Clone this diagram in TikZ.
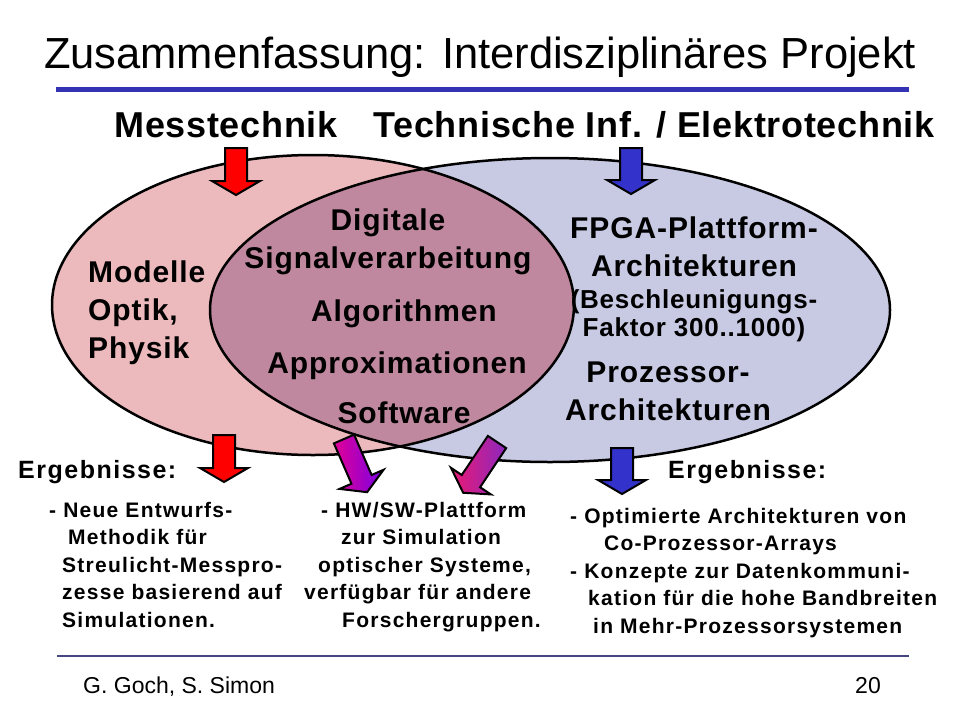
\documentclass[tikz,border=0pt]{standalone}
\usepackage{fontspec}
\setmainfont{Liberation Sans}
\newfontfamily\headfont[LetterSpace=2]{Liberation Sans}
\newfontfamily\fieldfont[LetterSpace=3]{Liberation Sans}
\newfontfamily\resfont[LetterSpace=6]{Liberation Sans}

\definecolor{leftpink}{RGB}{236,186,188}
\definecolor{rightblue}{RGB}{200,202,228}
\definecolor{lensmauve}{RGB}{192,136,158}
\definecolor{rulebar}{RGB}{51,51,180}
\definecolor{footrule}{RGB}{70,70,130}
\definecolor{arrowblue}{RGB}{51,51,204}
\definecolor{gradAleft}{RGB}{225,0,150}
\definecolor{gradAright}{RGB}{120,0,230}
\definecolor{gradBleft}{RGB}{235,25,115}
\definecolor{gradBright}{RGB}{140,40,190}

\tikzset{
  titletext/.style={font=\fontsize{43.5}{50}\selectfont, anchor=base, inner sep=0},
  headtext/.style={font=\headfont\fontsize{36}{40}\selectfont\bfseries, anchor=base, inner sep=0},
  fieldtext/.style={font=\fieldfont\fontsize{30}{38}\selectfont\bfseries, align=center, anchor=base, inner sep=0},
  restitle/.style={font=\resfont\fontsize{25}{30}\selectfont\bfseries, anchor=base west, inner sep=0},
  restext/.style={font=\resfont\fontsize{21}{27.5}\selectfont\bfseries, align=left, anchor=base west, inner sep=0},
  foottext/.style={font=\fontsize{23}{28}\selectfont, inner sep=0},
  pics/blockarrow/.style={code={
    \path[pic actions, line width=2, line join=miter]
      (-11,0) -- (11,0) -- (11,#1-14) -- (24,#1-14) -- (0,#1) -- (-24,#1-14) -- (-11,#1-14) -- cycle;
  }}
}

\begin{document}
\begin{tikzpicture}[x=1pt, y=-1pt]
  \useasboundingbox[fill=white] (0,0) rectangle (960,720);

  % title with its rule
  \node[titletext] (title) at (480,68) {Zusammenfassung: Interdisziplinäres Projekt};
  \draw[rulebar, line width=5] (56,89.5) -- (909,89.5);

  % the two fields
  \node[headtext] (mess) at (226,137) {Messtechnik};
  \node[headtext] (tinf) at (654,137) {Technische Inf. / Elektrotechnik};

  % two overlapping ellipses
  % left one: centre (313,305), radii 261 x 150
  % right one: centre (550,310), radii 340 x 152
  \def\lcx{313} \def\lcy{305} \def\lrx{261} \def\lry{150}
  \def\rcx{550} \def\rcy{310} \def\rrx{340} \def\rry{152}
  \fill[leftpink] (\lcx,\lcy) ellipse [x radius=\lrx, y radius=\lry];
  \fill[rightblue] (\rcx,\rcy) ellipse [x radius=\rrx, y radius=\rry];
  \begin{scope}
    \clip (\lcx,\lcy) ellipse [x radius=\lrx, y radius=\lry];
    \fill[lensmauve] (\rcx,\rcy) ellipse [x radius=\rrx, y radius=\rry];
  \end{scope}
  \draw[line width=2.5] (\lcx,\lcy) ellipse [x radius=\lrx, y radius=\lry];
  \draw[line width=2.5] (\rcx,\rcy) ellipse [x radius=\rrx, y radius=\rry];

  % what is inside (multi-line nodes sit on their last line)
  \node[fieldtext, align=left, anchor=base west] (model) at (88,358) {Modelle\\Optik,\\Physik};
  \node[fieldtext] (dsv) at (388,268) {Digitale\\Signalverarbeitung};
  \node[fieldtext] (algo) at (404,321) {Algorithmen};
  \node[fieldtext] (approx) at (397,373) {Approximationen};
  \node[fieldtext] (soft) at (404,423) {Software};
  \node[fieldtext] (fpga) at (694,276) {FPGA-Plattform-\\Architekturen};
  \node[fieldtext, font=\fieldfont\fontsize{26}{28}\selectfont\bfseries] (speed) at (694,336) {(Beschleunigungs-\\Faktor 300..1000)};
  \node[fieldtext] (proz) at (668,420) {Prozessor-\\Architekturen};

  % block arrows in and out
  \pic[draw, fill=red] at (236,148) {blockarrow=47};
  \pic[draw, fill=arrowblue] at (631,148) {blockarrow=46};
  \pic[draw, fill=red] at (224,435) {blockarrow=47};
  \pic[draw, fill=arrowblue] at (622,448) {blockarrow=46};
  \pic[draw, left color=gradAleft, right color=gradAright, rotate=23.5] at (344,439) {blockarrow=58};
  \pic[draw, left color=gradBleft, right color=gradBright, rotate=-33.7] at (497,442) {blockarrow=61};

  % results
  \node[restitle] (resL) at (18,478) {Ergebnisse:};
  \node[restitle] (resR) at (668,478) {Ergebnisse:};
  \node[restext] (resA) at (49,627) {- Neue Entwurfs-\\\hspace*{19pt}Methodik für\\\hspace*{13pt}Streulicht-Messpro-\\\hspace*{13pt}zesse basierend auf\\\hspace*{13pt}Simulationen.};
  \node[restext] (resB) at (304,627) {\hspace*{17pt}- HW/SW-Plattform\\\hspace*{37pt}zur Simulation\\\hspace*{14pt}optischer Systeme,\\verfügbar für andere\\\hspace*{38pt}Forschergruppen.};
  \node[restext] (resC) at (570,633) {- Optimierte Architekturen von\\\hspace*{34pt}Co-Prozessor-Arrays\\- Konzepte zur Datenkommuni-\\\hspace*{18pt}kation für die hohe Bandbreiten\\\hspace*{23pt}in Mehr-Prozessorsystemen};

  % footer
  \draw[footrule, line width=2] (57,656) -- (909,656);
  \node[foottext, anchor=base west] (authors) at (83,693) {G. Goch, S. Simon};
  \node[foottext, anchor=base east] (page) at (881,693) {20};
\end{tikzpicture}
\end{document}
